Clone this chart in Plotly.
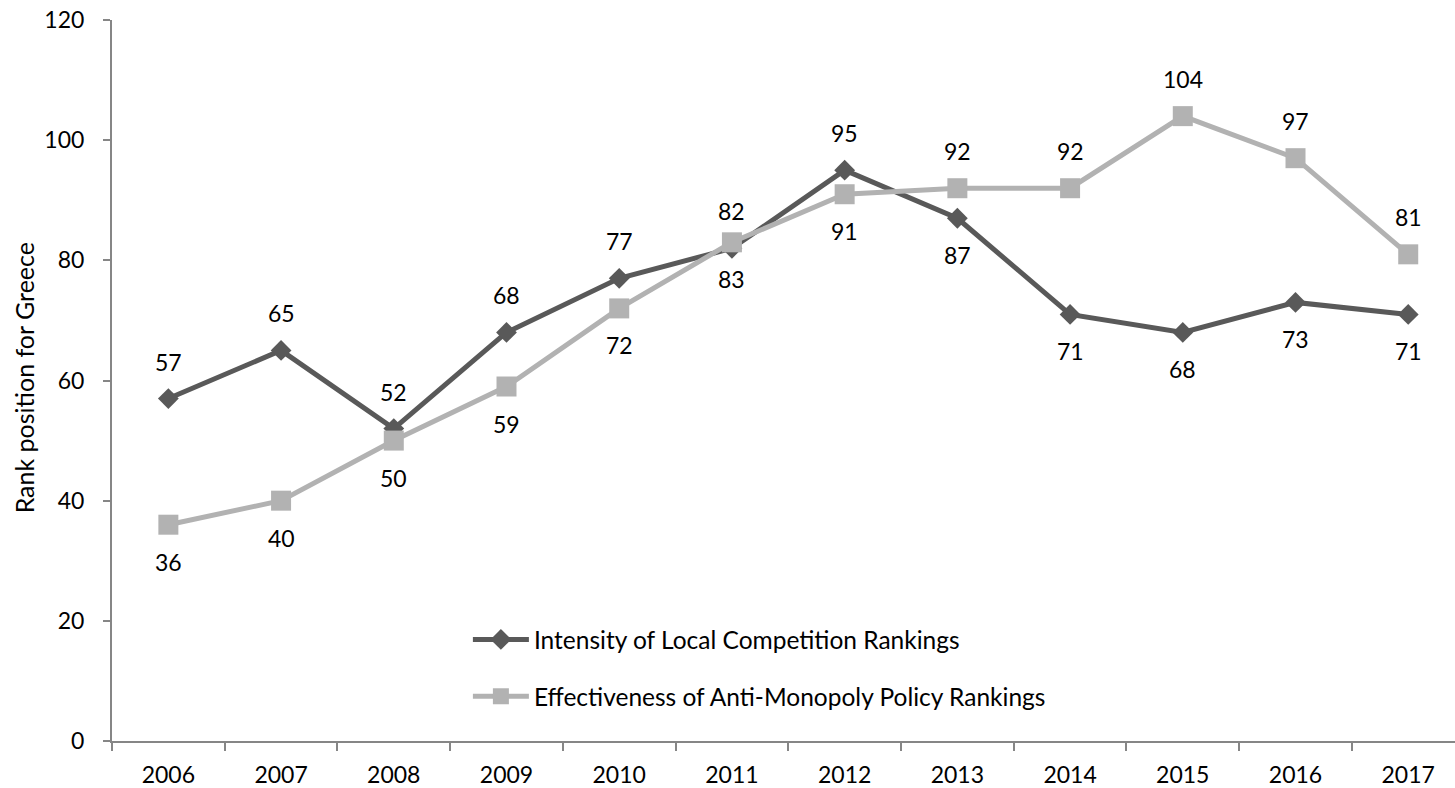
import plotly.graph_objects as go

# Greece ranking positions by year
years = ["2006", "2007", "2008", "2009", "2010", "2011",
         "2012", "2013", "2014", "2015", "2016", "2017"]
local_competition = [57, 65, 52, 68, 77, 82, 95, 87, 71, 68, 73, 71]
anti_monopoly = [36, 40, 50, 59, 72, 83, 91, 92, 92, 104, 97, 81]

y_ticks = [0, 20, 40, 60, 80, 100, 120]
y_title = "Rank position for Greece"

DARK = "#595959"
LIGHT = "#B2B2B2"
AXIS = "#868686"
FONT = "Lato"

# which side of each marker its value label sits on (+1 above, -1 below)
local_label_side = [1, 1, 1, 1, 1, 1, 1, -1, -1, -1, -1, -1]
anti_label_side = [-1, -1, -1, -1, -1, -1, -1, 1, 1, 1, 1, 1]

fig = go.Figure()

fig.add_trace(go.Scatter(
    x=years, y=local_competition, mode="lines+markers",
    name="Intensity of Local Competition Rankings",
    legendgroup="a",
    line=dict(color=DARK, width=5),
    marker=dict(symbol="diamond", size=16, color=DARK),
))
fig.add_trace(go.Scatter(
    x=years, y=anti_monopoly, mode="lines+markers",
    name="Effectiveness of Anti-Monopoly Policy Rankings",
    legendgroup="b",
    line=dict(color=LIGHT, width=5),
    marker=dict(symbol="square", size=20, color=LIGHT),
))

# value labels, positioned by category index on the x axis
annotations = []
for series, sides in ((local_competition, local_label_side),
                      (anti_monopoly, anti_label_side)):
    for i, (val, side) in enumerate(zip(series, sides)):
        annotations.append(dict(
            x=i, y=val, xref="x", yref="y", text=str(val), showarrow=False,
            xanchor="center", yanchor="middle", yshift=37 * side,
            font=dict(family=FONT, size=23, color="#000000"),
        ))

# vertical y-axis title
annotations.append(dict(
    x=-0.0655, y=0.503, xref="paper", yref="paper", text=y_title,
    showarrow=False, textangle=-90, xanchor="center", yanchor="middle",
    font=dict(family=FONT, size=25, color="#000000"),
))

fig.update_layout(
    width=1455, height=788,
    margin=dict(l=112, r=0, t=20, b=47),
    paper_bgcolor="white", plot_bgcolor="white",
    font=dict(family=FONT, size=23, color="#000000"),
    showlegend=True,
    legend=dict(
        x=0.265, y=0.172, xanchor="left", yanchor="top",
        bgcolor="rgba(0,0,0,0)",
        font=dict(family=FONT, size=24.5, color="#000000"),
        itemwidth=56, tracegroupgap=22, traceorder="grouped",
    ),
    annotations=annotations,
    xaxis=dict(
        type="category", range=[-0.5, 11.415],
        showline=True, linecolor=AXIS, linewidth=2,
        ticks="outside", tickson="boundaries", ticklen=8,
        tickcolor=AXIS, tickwidth=2,
        showgrid=False, zeroline=False,
        tickfont=dict(family=FONT, size=23, color="#000000"),
        ticklabelstandoff=12,
    ),
    yaxis=dict(
        range=[0, 120], tickvals=y_ticks,
        showline=True, linecolor=AXIS, linewidth=2,
        ticks="outside", ticklen=7, tickcolor=AXIS, tickwidth=2,
        showgrid=False, zeroline=False,
        tickfont=dict(family=FONT, size=23, color="#000000"),
        ticklabelstandoff=14,
    ),
)

fig.write_html("out.html")
